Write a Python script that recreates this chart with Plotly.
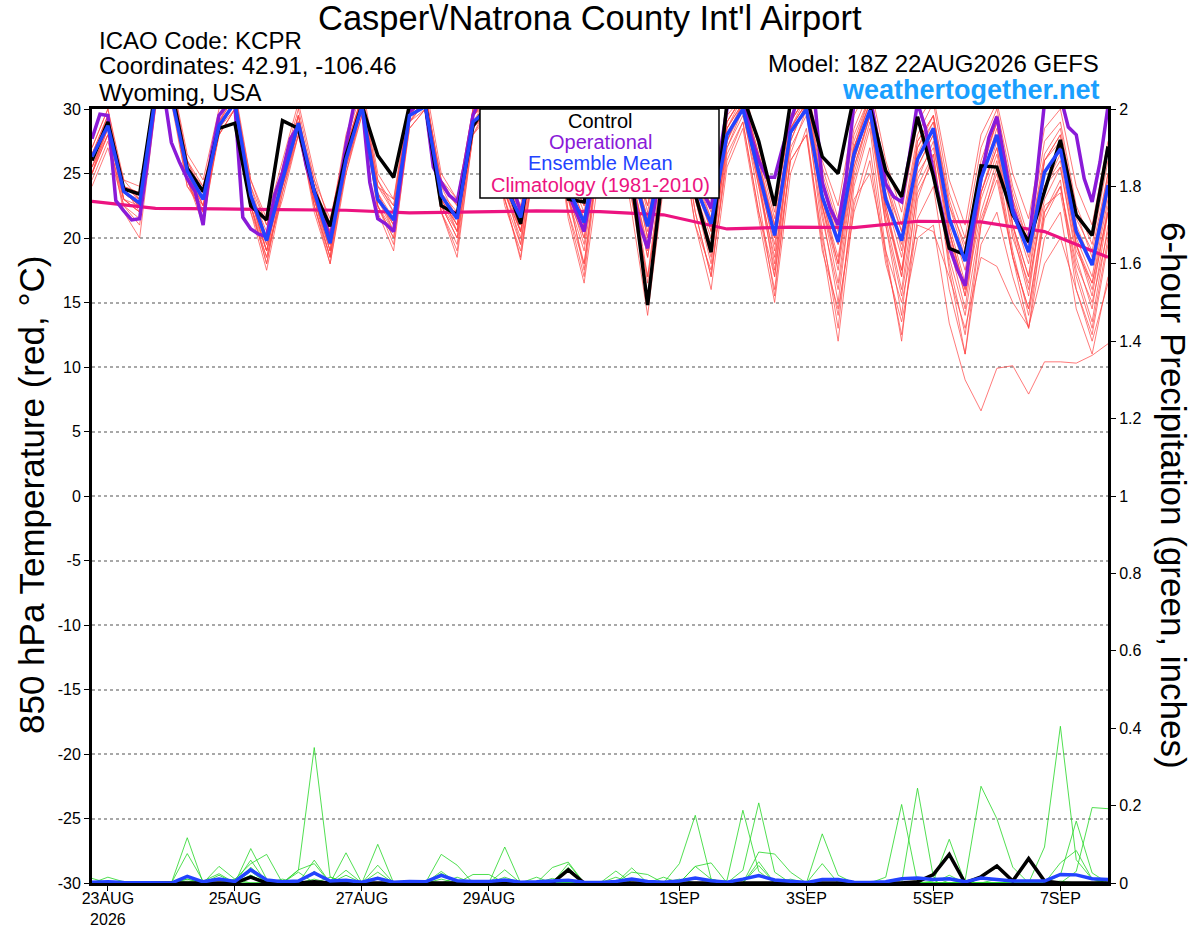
import pandas as pd
import plotly.graph_objects as go
from plotly.subplots import make_subplots

FONT = "Liberation Sans, Arial, Helvetica, sans-serif"

# time axes (GEFS 18Z run, 6-hourly members, 3-hourly operational)
start = "2026-08-22 18:00"
times_6h = pd.date_range(start, periods=65, freq="6h")
times_3h = pd.date_range(start, periods=129, freq="3h")
times_clim = pd.date_range(start, periods=17, freq="24h")

tick_dates = ["2026-08-23", "2026-08-25", "2026-08-27", "2026-08-29",
              "2026-09-01", "2026-09-03", "2026-09-05", "2026-09-07"]
tick_labels = ["23AUG<br>2026", "25AUG", "27AUG", "29AUG", "1SEP", "3SEP", "5SEP", "7SEP"]
temp_ticks = [-30, -25, -20, -15, -10, -5, 0, 5, 10, 15, 20, 25, 30]
temp_labels = ["-30", "-25", "-20", "-15", "-10", "-5", "0", "5", "10", "15", "20", "25", "30"]
precip_ticks = [0, 0.2, 0.4, 0.6, 0.8, 1.0, 1.2, 1.4, 1.6, 1.8, 2.0]
precip_labels = ["0", "0.2", "0.4", "0.6", "0.8", "1", "1.2", "1.4", "1.6", "1.8", "2"]

# 850 hPa temperature (C)
temp_mean = [26.3, 28.7, 23.6, 22.7, 31.0, 31.0, 25.2, 23.0,
             28.7, 30.5, 23.3, 19.8, 24.5, 28.9, 23.6, 19.6,
             26.1, 30.2, 23.0, 21.4, 29.5, 30.2, 23.3, 21.5,
             29.0, 30.0, 24.0, 21.6, 28.0, 31.0, 23.8, 21.2,
             28.0, 31.0, 25.5, 20.9, 27.0, 30.0, 24.0, 21.1,
             28.0, 30.0, 25.1, 20.2, 28.2, 30.0, 23.2, 19.7,
             26.5, 29.9, 23.0, 19.8, 26.1, 28.5, 21.5, 18.2,
             24.6, 28.0, 22.0, 18.9, 25.1, 26.9, 20.5, 17.9,
             24.1]

temp_control = [26.0, 29.0, 23.8, 23.4, 31.5, 31.5, 25.4, 23.6,
                28.5, 28.9, 22.5, 21.4, 29.1, 28.5, 23.6, 20.9,
                26.4, 30.3, 26.4, 24.7, 30.3, 30.3, 22.5, 21.8,
                28.7, 30.5, 24.5, 21.1, 29.0, 31.0, 23.0, 22.8,
                29.0, 31.0, 24.5, 14.8, 25.5, 31.0, 23.4, 18.9,
                30.5, 31.0, 27.5, 22.5, 30.5, 31.0, 26.3, 25.0,
                31.0, 30.2, 25.2, 23.2, 29.4, 24.8, 19.2, 18.7,
                25.6, 25.5, 21.8, 19.7, 23.6, 27.6, 21.8, 20.2,
                27.1]

temp_oper = [27.7, 29.6, 29.5, 22.9, 22.1, 21.4, 21.5, 25.9,
             31.0, 31.5, 27.4, 25.9, 24.6, 23.6, 21.0, 26.4,
             29.5, 30.3, 30.3, 21.6, 20.7, 20.3, 20.1, 23.3,
             25.1, 27.7, 28.7, 25.6, 23.6, 22.0, 19.9, 23.3,
             27.2, 30.3, 30.5, 24.3, 21.5, 21.1, 20.5, 25.4,
             29.8, 30.3, 30.3, 25.5, 24.3, 23.3, 22.8, 25.9,
             29.5, 31.0, 31.0, 31.0, 26.0, 24.0, 22.0, 24.0,
             28.0, 30.5, 31.0, 27.0, 23.5, 22.0, 20.5, 24.0,
             28.0, 30.5, 31.0, 27.0, 24.0, 21.0, 19.2, 23.0,
             27.5, 30.0, 31.0, 28.0, 25.5, 23.5, 22.3, 26.0,
             30.0, 31.0, 31.0, 28.0, 26.0, 24.7, 24.7, 27.0,
             29.0, 31.0, 31.0, 31.0, 24.3, 22.3, 21.0, 24.6,
             30.5, 31.0, 31.0, 27.7, 24.2, 23.2, 22.8, 26.4,
             30.5, 28.5, 25.1, 22.3, 19.3, 17.6, 16.3, 20.7,
             24.6, 27.8, 29.4, 25.9, 22.3, 20.7, 19.7, 24.6,
             30.5, 31.0, 31.0, 28.6, 28.0, 24.6, 22.8, 25.9,
             30.2]

temp_clim = [22.84, 22.3, 22.25, 22.2, 22.15, 21.95, 22.0, 22.1, 22.05,
             21.8, 20.7, 20.85, 20.8, 21.3, 21.25, 20.5, 18.5]

temp_m01 = [25.5, 28.5, 23.0, 22.0, 31.5, 32.0, 25.5, 22.5,
            29.5, 31.0, 23.0, 19.0, 25.0, 29.5, 23.0, 19.0,
            27.0, 31.0, 23.5, 21.0, 30.0, 31.5, 23.0, 20.5,
            29.5, 31.0, 24.5, 20.5, 28.5, 32.0, 24.0, 20.0,
            29.0, 32.0, 26.0, 20.0, 28.0, 31.0, 24.5, 20.5,
            29.0, 31.0, 25.0, 19.0, 29.0, 31.0, 22.5, 18.0,
            27.0, 31.0, 22.0, 17.0, 27.5, 29.5, 20.5, 16.0,
            25.5, 29.0, 21.0, 17.0, 26.0, 28.0, 19.5, 16.5,
            23.0]
temp_m02 = [26.5, 29.5, 24.0, 23.5, 32.0, 32.5, 26.5, 24.5,
            30.0, 31.5, 24.5, 21.5, 26.0, 30.5, 25.0, 21.0,
            28.0, 32.0, 25.0, 23.0, 31.0, 32.0, 25.0, 23.0,
            30.0, 31.5, 25.5, 22.5, 29.5, 32.5, 25.5, 23.0,
            30.0, 32.5, 27.0, 22.5, 29.0, 32.0, 26.0, 23.0,
            30.0, 32.0, 27.0, 22.0, 30.0, 32.0, 26.0, 22.5,
            29.5, 32.0, 26.0, 22.0, 29.0, 31.0, 24.5, 21.0,
            28.0, 30.5, 25.0, 21.5, 28.5, 30.0, 24.0, 21.0,
            27.5]
temp_m03 = [24.5, 27.5, 23.0, 22.5, 31.0, 31.0, 24.5, 21.5,
            28.0, 30.0, 22.0, 18.5, 23.5, 28.0, 22.5, 18.5,
            25.5, 30.0, 22.5, 20.0, 29.0, 30.5, 22.0, 19.5,
            28.5, 30.0, 23.0, 19.5, 27.0, 30.5, 22.0, 18.0,
            27.0, 30.0, 23.0, 17.0, 25.0, 29.0, 21.0, 17.5,
            26.0, 29.0, 22.0, 17.0, 26.0, 28.0, 19.0, 14.5,
            22.0, 26.0, 18.0, 13.5, 20.0, 21.0, 13.4, 9.0,
            6.6, 9.9, 10.1, 7.9, 10.4, 10.4, 10.3, 10.9,
            11.8]
temp_m04 = [25.0, 28.0, 22.5, 21.0, 30.5, 31.5, 24.5, 21.0,
            28.5, 30.5, 22.5, 18.0, 24.0, 28.5, 22.0, 18.0,
            25.5, 30.5, 22.0, 19.0, 29.0, 31.0, 22.0, 19.0,
            28.0, 30.5, 23.0, 18.5, 27.5, 31.0, 22.0, 17.0,
            27.0, 31.0, 24.0, 16.5, 26.0, 30.0, 22.0, 17.0,
            27.0, 30.0, 23.0, 15.5, 26.5, 30.0, 20.5, 13.0,
            24.0, 28.5, 19.0, 12.0, 23.0, 26.5, 17.5, 11.0,
            21.0, 25.5, 18.5, 13.0, 22.0, 24.5, 16.0, 12.5,
            19.5]
temp_m05 = [26.0, 29.0, 24.0, 23.0, 31.0, 31.5, 25.5, 23.5,
            29.0, 30.5, 23.5, 20.5, 24.5, 29.0, 24.0, 20.5,
            26.5, 30.5, 24.0, 22.0, 30.0, 30.5, 23.5, 22.0,
            29.5, 30.5, 24.5, 22.0, 28.5, 31.5, 24.5, 21.5,
            28.5, 31.5, 26.0, 21.5, 27.5, 30.5, 24.5, 21.5,
            28.5, 30.5, 25.5, 21.0, 28.5, 30.5, 24.0, 20.5,
            27.0, 30.5, 24.0, 20.5, 27.0, 29.0, 22.5, 19.5,
            25.5, 29.0, 23.0, 19.5, 26.0, 27.5, 21.5, 19.0,
            25.0]
temp_m06 = [27.0, 30.0, 24.5, 23.0, 32.0, 32.0, 26.0, 24.0,
            29.5, 31.0, 24.0, 20.0, 25.5, 30.0, 24.5, 20.0,
            27.0, 31.0, 24.0, 22.5, 30.5, 31.0, 24.5, 22.5,
            30.0, 30.5, 25.0, 22.0, 29.0, 32.0, 25.0, 22.0,
            29.5, 32.0, 26.5, 21.0, 28.0, 31.0, 25.0, 22.0,
            29.0, 31.0, 26.0, 20.5, 29.0, 31.0, 24.5, 19.5,
            27.5, 31.0, 24.5, 19.0, 27.0, 29.5, 22.5, 18.5,
            25.0, 29.0, 23.0, 18.5, 26.0, 28.0, 21.0, 18.0,
            25.0]
temp_m07 = [25.0, 28.0, 23.5, 22.5, 30.5, 31.0, 24.0, 22.0,
            28.0, 30.0, 22.5, 19.0, 23.0, 28.0, 23.0, 19.5,
            25.0, 29.5, 22.5, 20.5, 28.5, 30.0, 22.5, 20.0,
            28.0, 29.5, 22.5, 19.0, 26.5, 30.0, 21.5, 16.5,
            25.5, 29.5, 22.0, 14.0, 24.0, 28.5, 21.0, 16.0,
            25.5, 28.5, 21.5, 15.0, 25.0, 28.5, 19.5, 12.0,
            22.5, 27.0, 18.5, 12.5, 21.5, 24.0, 16.0, 11.0,
            19.5, 22.0, 17.0, 13.0, 20.0, 22.0, 14.5, 11.0,
            17.0]
temp_m08 = [26.0, 29.0, 23.0, 22.0, 31.5, 31.5, 25.0, 22.5,
            29.0, 31.0, 23.5, 19.5, 24.5, 29.5, 23.5, 19.0,
            26.5, 31.0, 23.0, 20.5, 29.5, 31.0, 23.5, 21.0,
            29.5, 31.0, 24.5, 21.5, 28.5, 31.5, 24.0, 21.0,
            28.0, 31.0, 25.5, 20.0, 27.0, 30.0, 24.0, 20.5,
            28.0, 30.5, 25.5, 20.0, 28.5, 30.5, 23.0, 18.5,
            26.0, 30.0, 22.0, 17.5, 25.5, 28.0, 20.0, 15.5,
            22.0, 26.0, 19.0, 14.0, 21.5, 24.0, 18.0, 15.0,
            20.5]
temp_m09 = [25.5, 28.0, 22.0, 20.0, 30.0, 31.0, 24.5, 22.0,
            28.5, 30.0, 22.0, 17.5, 23.5, 28.5, 22.5, 18.0,
            25.0, 30.0, 22.5, 19.5, 28.5, 30.0, 22.0, 18.5,
            28.0, 30.0, 23.0, 18.3, 27.0, 31.0, 23.0, 19.0,
            27.5, 31.0, 24.5, 18.5, 26.5, 30.5, 23.0, 18.5,
            27.5, 30.5, 24.0, 17.5, 27.5, 30.5, 22.5, 16.5,
            25.5, 29.5, 21.5, 16.0, 24.5, 27.5, 19.5, 14.5,
            23.5, 27.5, 21.0, 16.0, 24.0, 26.5, 19.5, 15.5,
            22.5]
temp_m10 = [26.5, 29.0, 24.5, 24.0, 31.5, 32.5, 26.0, 23.5,
            29.5, 31.0, 24.5, 21.0, 25.0, 29.5, 24.0, 21.0,
            27.5, 31.5, 24.5, 22.5, 30.5, 31.5, 24.0, 21.5,
            29.5, 31.0, 25.0, 21.5, 29.0, 32.0, 25.5, 22.5,
            29.0, 32.0, 27.0, 22.0, 28.5, 31.0, 25.5, 22.5,
            29.5, 31.0, 26.5, 21.5, 29.5, 31.5, 25.5, 21.5,
            28.5, 31.5, 25.0, 21.0, 28.0, 30.5, 23.5, 20.0,
            27.0, 30.0, 24.0, 20.0, 27.5, 29.0, 22.5, 19.5,
            26.0]
temp_m11 = [24.0, 27.0, 22.5, 21.5, 30.0, 30.5, 24.0, 22.5,
            28.0, 30.0, 23.0, 19.5, 24.0, 28.0, 23.0, 19.5,
            25.5, 29.5, 23.0, 21.5, 29.0, 30.0, 23.0, 21.0,
            28.5, 30.0, 23.5, 20.5, 27.5, 30.5, 23.0, 20.0,
            27.5, 30.5, 24.5, 19.5, 26.5, 29.5, 23.0, 19.5,
            27.0, 29.5, 24.0, 18.5, 27.0, 29.5, 21.5, 16.0,
            24.5, 29.0, 21.0, 15.5, 23.5, 26.0, 18.5, 14.0,
            21.5, 25.0, 18.5, 14.5, 22.0, 24.0, 17.5, 13.5,
            21.0]
temp_m12 = [26.0, 29.5, 23.5, 22.5, 32.0, 31.5, 25.0, 23.0,
            29.0, 31.5, 23.5, 20.0, 25.0, 29.5, 23.5, 20.0,
            26.5, 31.0, 23.5, 21.5, 30.0, 31.0, 23.5, 21.5,
            29.5, 30.5, 24.0, 21.0, 28.5, 31.5, 24.0, 21.0,
            28.5, 31.5, 25.5, 20.5, 27.5, 30.5, 24.5, 21.0,
            28.5, 30.5, 25.0, 20.0, 28.5, 30.5, 23.5, 19.5,
            27.0, 30.5, 23.5, 19.5, 26.5, 29.0, 21.5, 17.5,
            24.5, 28.5, 22.0, 18.0, 25.0, 27.0, 20.0, 17.0,
            23.5]
temp_m13 = [25.0, 28.5, 23.0, 22.0, 31.0, 31.0, 24.5, 21.5,
            28.5, 30.5, 22.5, 18.5, 24.0, 29.0, 22.5, 18.5,
            26.0, 30.5, 22.5, 20.0, 29.0, 30.5, 22.5, 20.0,
            28.5, 30.0, 23.5, 20.0, 28.0, 31.0, 23.0, 18.0,
            27.5, 30.5, 23.0, 15.5, 25.0, 29.0, 22.0, 17.0,
            26.5, 29.0, 22.0, 16.0, 26.0, 28.0, 20.0, 14.0,
            23.0, 25.0, 19.0, 15.0, 21.0, 20.5, 17.0, 13.0,
            18.5, 17.8, 15.0, 13.1, 18.0, 20.0, 16.0, 12.0,
            16.5]
temp_m14 = [26.5, 29.5, 24.0, 23.0, 31.5, 32.0, 26.0, 23.0,
            29.5, 31.0, 23.0, 19.0, 24.5, 29.0, 23.5, 20.5,
            26.5, 31.0, 24.5, 22.0, 30.0, 31.0, 24.0, 22.5,
            29.5, 31.0, 24.5, 21.5, 28.5, 31.5, 24.5, 21.5,
            28.5, 31.5, 26.0, 21.5, 27.5, 31.0, 25.0, 21.5,
            28.5, 31.0, 26.0, 21.0, 28.5, 31.0, 24.0, 20.0,
            27.0, 30.5, 23.0, 18.5, 26.0, 28.5, 21.0, 16.5,
            23.5, 27.0, 20.0, 16.5, 23.0, 25.5, 19.0, 16.5,
            22.0]
temp_m15 = [25.5, 28.5, 23.5, 23.0, 30.5, 31.0, 25.0, 23.0,
            28.5, 30.5, 23.0, 20.0, 24.0, 28.5, 23.0, 19.5,
            26.0, 30.0, 23.0, 21.0, 29.5, 30.5, 22.5, 20.5,
            29.0, 30.5, 23.5, 20.5, 28.0, 31.0, 23.5, 20.5,
            28.0, 31.0, 25.0, 19.0, 26.5, 30.0, 23.5, 20.0,
            27.5, 30.0, 24.5, 19.5, 28.0, 30.0, 22.5, 17.5,
            25.5, 29.5, 22.5, 17.0, 25.0, 27.0, 20.5, 15.5,
            23.0, 26.5, 20.5, 15.5, 24.0, 25.5, 18.5, 14.5,
            22.0]
temp_m16 = [27.0, 30.0, 24.0, 22.0, 31.5, 32.0, 25.5, 22.0,
            29.5, 31.0, 22.5, 18.0, 24.5, 29.0, 23.0, 18.5,
            26.5, 30.5, 23.5, 20.5, 29.5, 31.0, 23.5, 20.5,
            29.0, 31.0, 24.0, 19.5, 28.0, 31.5, 23.5, 17.5,
            27.5, 31.5, 24.5, 17.0, 26.5, 30.5, 23.0, 18.0,
            27.5, 30.5, 24.5, 17.0, 27.5, 30.5, 22.0, 15.0,
            25.0, 29.5, 21.0, 14.0, 24.0, 26.5, 18.0, 12.5,
            21.0, 24.5, 18.5, 14.5, 22.5, 23.5, 17.0, 13.0,
            20.0]
temp_m17 = [26.0, 28.5, 23.5, 22.5, 31.0, 31.5, 25.0, 22.5,
            28.5, 30.5, 23.0, 19.0, 24.5, 28.5, 23.0, 19.0,
            26.0, 30.5, 23.0, 21.0, 29.5, 30.5, 23.0, 21.0,
            29.0, 30.5, 24.0, 20.5, 28.0, 31.0, 23.5, 19.5,
            28.0, 31.0, 25.0, 18.5, 27.0, 30.0, 24.0, 19.0,
            28.0, 30.0, 24.5, 18.0, 28.0, 30.0, 23.0, 18.0,
            26.0, 30.0, 22.5, 17.5, 25.5, 28.0, 20.5, 16.0,
            23.5, 27.0, 21.0, 17.0, 24.0, 26.0, 19.5, 16.0,
            22.0]
temp_m18 = [25.0, 29.0, 24.0, 23.5, 31.0, 31.0, 25.5, 24.0,
            29.0, 31.0, 24.0, 21.0, 25.0, 29.0, 24.5, 21.5,
            27.0, 30.5, 24.0, 23.0, 30.0, 31.0, 24.5, 23.0,
            30.0, 31.0, 25.5, 23.0, 29.0, 31.5, 25.0, 22.5,
            29.0, 31.5, 26.5, 22.5, 28.5, 31.0, 25.5, 22.5,
            29.0, 31.0, 26.5, 22.5, 29.0, 31.0, 25.0, 21.0,
            28.0, 31.0, 24.5, 20.5, 27.5, 29.5, 23.0, 19.0,
            26.0, 29.5, 23.5, 19.5, 26.5, 28.5, 22.0, 18.5,
            24.5]

# 6-hour precipitation (inches)
precip_mean = [0.002, 0.003, 0.001, 0.0, 0.0, 0.0, 0.017, 0.003,
               0.010, 0.004, 0.034, 0.008, 0.003, 0.005, 0.026, 0.005,
               0.007, 0.002, 0.012, 0.002, 0.004, 0.003, 0.020, 0.006,
               0.004, 0.004, 0.008, 0.002, 0.003, 0.005, 0.007, 0.002,
               0.001, 0.004, 0.010, 0.004, 0.002, 0.005, 0.013, 0.006,
               0.002, 0.010, 0.019, 0.008, 0.004, 0.001, 0.009, 0.009,
               0.002, 0.001, 0.003, 0.011, 0.013, 0.009, 0.011, 0.003,
               0.013, 0.009, 0.005, 0.005, 0.005, 0.022, 0.021, 0.011,
               0.009]

precip_control = [0, 0, 0, 0, 0, 0, 0, 0,
                  0, 0, 0.015, 0, 0, 0, 0.003, 0,
                  0, 0, 0, 0, 0, 0, 0, 0,
                  0, 0, 0, 0, 0, 0, 0.034, 0,
                  0, 0, 0, 0, 0, 0, 0, 0,
                  0, 0, 0, 0, 0, 0, 0, 0,
                  0, 0, 0, 0, 0.003, 0.022, 0.074, 0,
                  0.016, 0.044, 0.005, 0.063, 0.005, 0, 0, 0,
                  0]

precip_m01 = [0, 0, 0, 0, 0, 0, 0, 0, 0, 0, 0, 0, 0,
              0.033, 0.35, 0.016, 0, 0, 0, 0, 0, 0, 0.03, 0, 0, 0,
              0, 0, 0, 0, 0, 0, 0, 0, 0, 0, 0, 0, 0.043,
              0.01, 0, 0, 0, 0, 0, 0, 0, 0, 0, 0, 0, 0,
              0, 0, 0, 0, 0, 0, 0, 0, 0.093, 0.405, 0.06, 0.01, 0]
precip_m02 = [0, 0, 0, 0, 0, 0, 0.117, 0, 0, 0, 0.089, 0.01, 0,
              0, 0, 0, 0, 0, 0.1, 0, 0, 0, 0, 0, 0, 0,
              0.093, 0, 0, 0, 0, 0, 0, 0, 0, 0, 0, 0, 0,
              0, 0, 0.033, 0.207, 0.028, 0, 0, 0, 0, 0, 0, 0, 0,
              0, 0, 0, 0.007, 0.25, 0.166, 0.041, 0, 0, 0, 0, 0, 0]
precip_m03 = [0, 0, 0, 0, 0, 0, 0.076, 0.005, 0.024, 0, 0.059, 0, 0,
              0, 0, 0, 0.078, 0, 0, 0, 0, 0, 0.074, 0.046, 0, 0,
              0, 0, 0, 0, 0, 0, 0, 0, 0, 0, 0, 0.05, 0.175,
              0.01, 0, 0, 0, 0, 0, 0, 0, 0, 0, 0, 0, 0,
              0.245, 0.015, 0, 0, 0, 0, 0, 0, 0, 0, 0, 0, 0]
precip_m04 = [0, 0.015, 0.003, 0, 0, 0, 0, 0, 0.043, 0.01, 0.05, 0.074, 0,
              0, 0.059, 0, 0, 0, 0.046, 0, 0, 0, 0, 0, 0, 0,
              0, 0, 0, 0.04, 0.054, 0, 0, 0, 0, 0, 0, 0, 0,
              0, 0.007, 0.188, 0.03, 0, 0, 0, 0, 0, 0, 0, 0, 0,
              0, 0, 0, 0, 0, 0, 0, 0, 0, 0, 0.03, 0.195, 0.192]
precip_m05 = [0, 0, 0, 0, 0, 0, 0.015, 0, 0, 0, 0.041, 0, 0,
              0.034, 0.05, 0, 0.033, 0, 0, 0, 0, 0, 0, 0, 0, 0,
              0.034, 0, 0, 0, 0.05, 0, 0, 0.031, 0, 0, 0, 0, 0.043,
              0.052, 0, 0, 0, 0, 0, 0, 0.127, 0.02, 0, 0, 0, 0,
              0, 0, 0, 0, 0, 0, 0, 0, 0, 0.02, 0.16, 0.026, 0]
precip_m06 = [0, 0, 0, 0, 0, 0, 0, 0, 0, 0, 0.033, 0, 0,
              0, 0.03, 0, 0, 0, 0.028, 0, 0, 0, 0.025, 0, 0.022, 0.022,
              0, 0, 0, 0, 0, 0, 0, 0, 0.039, 0, 0, 0, 0,
              0, 0, 0, 0, 0, 0, 0, 0, 0, 0, 0, 0.015, 0.203,
              0, 0.005, 0.113, 0, 0, 0, 0, 0, 0, 0.052, 0.084, 0.01, 0]
precip_m07 = [0, 0, 0, 0, 0, 0, 0.01, 0, 0.02, 0, 0.02, 0, 0,
              0.028, 0, 0, 0.02, 0, 0, 0, 0, 0, 0, 0, 0, 0,
              0.015, 0, 0, 0, 0.04, 0, 0, 0, 0.028, 0.022, 0, 0, 0,
              0, 0, 0, 0.08, 0.075, 0.028, 0, 0, 0, 0, 0, 0, 0,
              0, 0, 0.02, 0, 0, 0, 0, 0, 0, 0, 0, 0, 0.01]
precip_m08 = [0, 0, 0, 0, 0, 0, 0, 0, 0, 0.01, 0, 0, 0.01,
              0, 0, 0.015, 0, 0, 0, 0, 0, 0, 0, 0.015, 0, 0,
              0, 0, 0, 0.012, 0, 0, 0, 0.015, 0, 0, 0.015, 0, 0,
              0, 0, 0, 0.055, 0, 0, 0, 0.05, 0, 0, 0, 0, 0,
              0, 0, 0, 0, 0, 0.01, 0, 0, 0, 0, 0, 0, 0]
precip_m09 = [0.012, 0, 0, 0, 0, 0, 0.01, 0, 0, 0, 0.03, 0, 0,
              0, 0, 0, 0, 0, 0.015, 0, 0, 0.005, 0, 0, 0, 0,
              0, 0, 0.015, 0, 0, 0, 0, 0, 0.01, 0, 0, 0, 0,
              0, 0, 0, 0.045, 0, 0, 0, 0, 0, 0, 0, 0, 0,
              0, 0, 0, 0, 0, 0, 0, 0.005, 0, 0, 0, 0, 0]
precip_m10 = [0, 0, 0, 0, 0, 0, 0, 0, 0, 0, 0.02, 0, 0,
              0, 0.01, 0, 0, 0, 0, 0, 0, 0, 0, 0, 0, 0,
              0, 0, 0, 0, 0, 0, 0, 0, 0, 0, 0, 0.01, 0,
              0, 0, 0, 0, 0, 0.01, 0, 0, 0, 0, 0, 0, 0,
              0, 0, 0, 0, 0, 0, 0, 0, 0, 0, 0, 0, 0]
precip_m11 = [0, 0, 0, 0, 0, 0, 0.005, 0, 0, 0, 0, 0, 0,
              0, 0, 0, 0, 0, 0, 0, 0, 0, 0.01, 0, 0, 0,
              0, 0, 0, 0, 0.005, 0, 0, 0, 0, 0, 0, 0, 0,
              0, 0, 0, 0, 0, 0, 0, 0, 0, 0, 0, 0, 0,
              0, 0, 0, 0, 0, 0, 0, 0, 0, 0.005, 0, 0, 0]

temp_members = [temp_m01, temp_m02, temp_m03, temp_m04, temp_m05, temp_m06,
                temp_m07, temp_m08, temp_m09, temp_m10, temp_m11, temp_m12,
                temp_m13, temp_m14, temp_m15, temp_m16, temp_m17, temp_m18]
precip_members = [precip_m01, precip_m02, precip_m03, precip_m04, precip_m05, precip_m06,
                  precip_m07, precip_m08, precip_m09, precip_m10, precip_m11]

RED = "rgba(255,70,70,0.8)"
GREEN = "rgba(40,215,40,0.9)"
PURPLE = "#8a1ad8"
BLUE = "#2343ff"
PINK = "#ec1380"
SKY = "#1a9fff"

# plot area in pixels (for placing text around it)
L, T, W, H = 92, 109, 1016, 774


def px(x):
    return (x - L) / W


def py(y):
    return (T + H - y) / H


fig = make_subplots(specs=[[{"secondary_y": True}]])

for m in temp_members:
    fig.add_trace(go.Scatter(x=times_6h, y=m, mode="lines",
                             line=dict(color=RED, width=0.9)), secondary_y=False)
fig.add_trace(go.Scatter(x=times_clim, y=temp_clim, mode="lines",
                         line=dict(color=PINK, width=3.2)), secondary_y=False)
fig.add_trace(go.Scatter(x=times_3h, y=temp_oper, mode="lines",
                         line=dict(color=PURPLE, width=3.5)), secondary_y=False)
fig.add_trace(go.Scatter(x=times_6h, y=temp_control, mode="lines",
                         line=dict(color="black", width=3.5)), secondary_y=False)
fig.add_trace(go.Scatter(x=times_6h, y=temp_mean, mode="lines",
                         line=dict(color=BLUE, width=3.5)), secondary_y=False)

for m in precip_members:
    fig.add_trace(go.Scatter(x=times_6h, y=m, mode="lines",
                             line=dict(color=GREEN, width=0.9)), secondary_y=True)
fig.add_trace(go.Scatter(x=times_6h, y=precip_control, mode="lines",
                         line=dict(color="black", width=3.5)), secondary_y=True)
fig.add_trace(go.Scatter(x=times_6h, y=precip_mean, mode="lines",
                         line=dict(color=BLUE, width=3.5)), secondary_y=True)

fig.update_xaxes(domain=[0, 1], automargin=False,
                 range=[times_6h[0], times_6h[-1]], tickvals=tick_dates, ticktext=tick_labels,
                 ticks="outside", ticklen=5, tickwidth=1, tickcolor="black",
                 ticklabelstandoff=-6,
                 showline=True, linewidth=3, linecolor="black", mirror=True,
                 showgrid=False, zeroline=False,
                 tickfont=dict(family=FONT, size=16, color="black"))
fig.update_yaxes(automargin=False, range=[-30, 30], tickvals=temp_ticks, ticktext=temp_labels,
                 ticks="outside", ticklen=5, tickwidth=1, tickcolor="black",
                 showline=True, linewidth=3, linecolor="black",
                 showgrid=True, gridcolor="#a8a8a8", griddash="dot", gridwidth=1.5,
                 zeroline=False, tickfont=dict(family=FONT, size=16, color="black"),
                 secondary_y=False)
fig.update_yaxes(automargin=False, range=[0, 2], tickvals=precip_ticks, ticktext=precip_labels,
                 ticks="outside", ticklen=5, tickwidth=1, tickcolor="black",
                 showline=True, linewidth=3, linecolor="black",
                 showgrid=False, zeroline=False,
                 tickfont=dict(family=FONT, size=16, color="black"),
                 secondary_y=True)

# legend box drawn by hand like the original image
fig.add_shape(type="rect", xref="paper", yref="paper",
              x0=px(480), x1=px(719), y0=py(198), y1=py(T),
              fillcolor="white", line=dict(color="black", width=1.5), layer="above")

legend_items = [("Control", "black", 121), ("Operational", PURPLE, 142),
                ("Ensemble Mean", BLUE, 163), ("Climatology (1981-2010)", PINK, 185)]
annotations = []
for text, color, ypix in legend_items:
    annotations.append(dict(text=text, x=px(600), y=py(ypix), xref="paper", yref="paper",
                            showarrow=False, xanchor="center", yanchor="middle",
                            font=dict(family=FONT, size=20, color=color)))

annotations += [
    dict(text="Casper\\/Natrona County Int'l Airport", x=px(590), y=py(18),
         xanchor="center", font=dict(family=FONT, size=34.5, color="black")),
    dict(text="ICAO Code: KCPR", x=px(97), y=py(40), xanchor="left",
         font=dict(family=FONT, size=24, color="black")),
    dict(text="Coordinates: 42.91, -106.46", x=px(97), y=py(66), xanchor="left",
         font=dict(family=FONT, size=24, color="black")),
    dict(text="Wyoming, USA", x=px(97), y=py(92), xanchor="left",
         font=dict(family=FONT, size=24, color="black")),
    dict(text="Model: 18Z 22AUG2026 GEFS", x=px(1101), y=py(64), xanchor="right",
         font=dict(family=FONT, size=24, color="black")),
    dict(text="<b>weathertogether.net</b>", x=px(1102), y=py(90), xanchor="right",
         font=dict(family=FONT, size=27, color=SKY)),
    dict(text="850 hPa Temperature (red, °C)", x=px(32), y=py(495), textangle=-90,
         xanchor="center", font=dict(family=FONT, size=35, color="black")),
    dict(text="6-hour Precipitation (green, inches)", x=px(1173), y=py(495), textangle=90,
         xanchor="center", font=dict(family=FONT, size=35, color="black")),
]
for a in annotations:
    a.setdefault("xref", "paper")
    a.setdefault("yref", "paper")
    a.setdefault("showarrow", False)
    a.setdefault("yanchor", "middle")

fig.update_layout(width=1200, height=927, margin=dict(l=L, r=1200 - L - W, t=T, b=927 - T - H, pad=0),
                  paper_bgcolor="white", plot_bgcolor="white", showlegend=False,
                  annotations=annotations, font=dict(family=FONT, color="black"))

# the page's default body margin would push the 1200x927 figure off by 8px
fig.write_html("out.html", config={"displayModeBar": False},
               post_script="document.body.style.margin='0';")
